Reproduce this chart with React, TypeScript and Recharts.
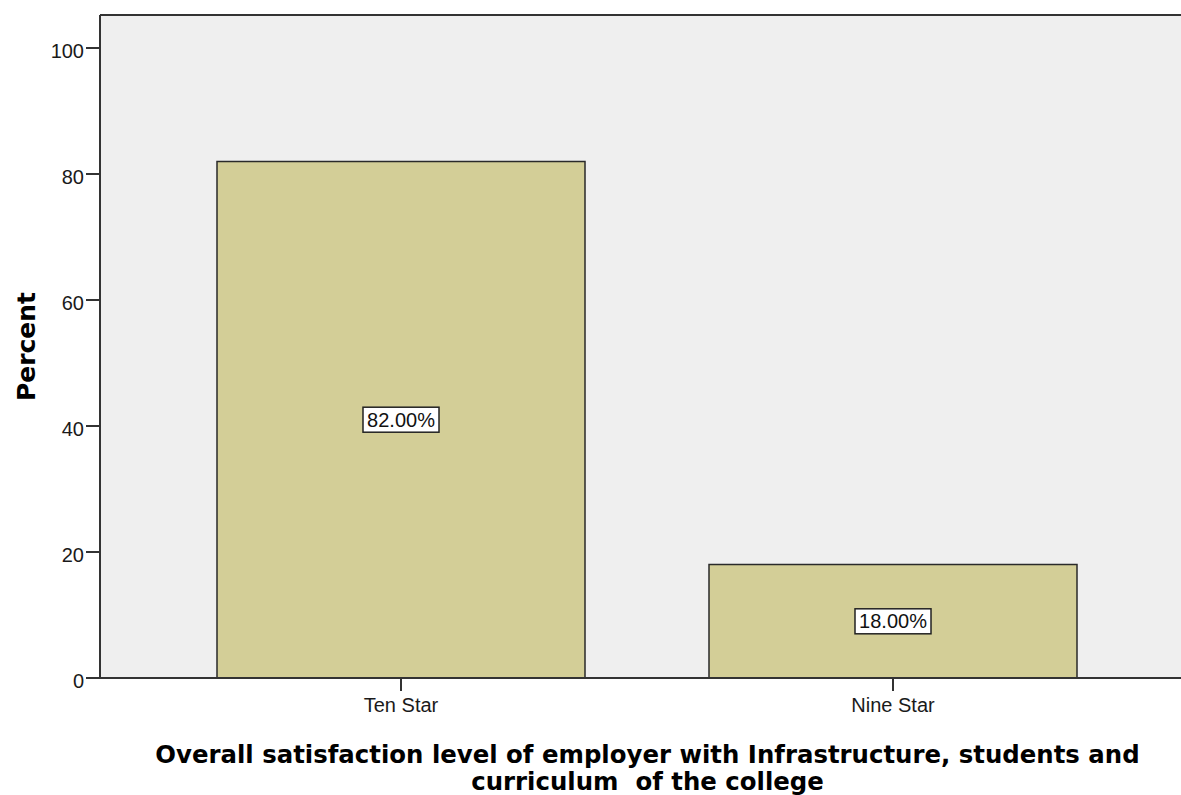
import React from 'react';
import { BarChart, Bar, XAxis, YAxis, CartesianGrid, ReferenceLine, LabelList } from 'recharts';

const categories = ['Ten Star', 'Nine Star'];
const percentValues = [82.0, 18.0];
const yTicks = [0, 20, 40, 60, 80, 100];
const yMax = 105.24;
const xTitleLine1 = 'Overall satisfaction level of employer with Infrastructure, students and';
const xTitleLine2 = 'curriculum  of the college';
const yTitle = 'Percent';

const data = categories.map((name, i) => ({ name, value: percentValues[i] }));

const AXIS = '#333333';
const BAR_FILL = '#D3CE97';
const BG = '#EFEFEF';

const ValueLabel = (props: any) => {
  const { x, y, width, height, value } = props;
  const cx = Number(x) + Number(width) / 2;
  const cy = Number(y) + Number(height) / 2;
  const w = 76;
  const h = 25;
  return (
    <g>
      <rect x={cx - w / 2} y={cy - h / 2} width={w} height={h} fill="#FFFFFF" stroke="#222222" strokeWidth={1.5} />
      <text x={cx} y={cy + 7} textAnchor="middle" fontFamily="'Liberation Sans', Arial, sans-serif" fontSize={20} fill="#111111">
        {Number(value).toFixed(2) + '%'}
      </text>
    </g>
  );
};

const XTitle = (props: any) => {
  const vb = props.viewBox || { x: 100, y: 678, width: 1081, height: 117 };
  const cx = vb.x + vb.width / 2 + 7;
  return (
    <text
      x={cx}
      y={vb.y + 85}
      textAnchor="middle"
      fontFamily="'DejaVu Sans', Verdana, sans-serif"
      fontWeight="bold"
      fontSize={24.4}
      fill="#000000"
      style={{ whiteSpace: 'pre' }}
    >
      <tspan x={cx} dy={0}>{xTitleLine1}</tspan>
      <tspan x={cx} dy={27}>{xTitleLine2}</tspan>
    </text>
  );
};

const YTitle = (props: any) => {
  const vb = props.viewBox || { x: 0, y: 15, width: 100, height: 663 };
  const bx = vb.x + 35;
  const cy = vb.y + vb.height / 2;
  return (
    <text
      x={bx}
      y={cy}
      textAnchor="middle"
      transform={`rotate(-90, ${bx}, ${cy})`}
      fontFamily="'DejaVu Sans', Verdana, sans-serif"
      fontWeight="bold"
      fontSize={25}
      fill="#000000"
    >
      {yTitle}
    </text>
  );
};

export default function App() {
  return (
    <div style={{ position: 'absolute', left: 0, top: 0, width: 1181, height: 795, background: '#FFFFFF' }}>
      <BarChart width={1181} height={795} data={data} margin={{ top: 15, right: 0, bottom: 0, left: 0 }}>
        <CartesianGrid fill={BG} stroke="none" horizontal={false} vertical={false} />
        <XAxis
          dataKey="name"
          type="category"
          padding={{ left: 55, right: 42 }}
          height={117}
          tickSize={13}
          tickMargin={7}
          axisLine={{ stroke: AXIS, strokeWidth: 2 }}
          tickLine={{ stroke: AXIS, strokeWidth: 2 }}
          tick={{ fill: '#1a1a1a', fontSize: 20, fontFamily: "'Liberation Sans', Arial, sans-serif" }}
          label={{ content: (p: any) => <XTitle {...p} /> }}
        />
        <YAxis
          type="number"
          domain={[0, yMax]}
          ticks={yTicks}
          width={100}
          tickSize={14}
          tickMargin={2}
          axisLine={{ stroke: AXIS, strokeWidth: 2 }}
          tickLine={{ stroke: AXIS, strokeWidth: 2 }}
          tick={{ fill: '#1a1a1a', fontSize: 20, fontFamily: "'Liberation Sans', Arial, sans-serif", dy: 3 }}
          label={{ content: (p: any) => <YTitle {...p} /> }}
        />
        <ReferenceLine y={yMax} stroke={AXIS} strokeWidth={2} ifOverflow="extendDomain" />
        <Bar dataKey="value" fill={BAR_FILL} stroke="#2a2a2a" strokeWidth={1.5} barSize={368} isAnimationActive={false}>
          <LabelList dataKey="value" content={(p: any) => <ValueLabel {...p} />} />
        </Bar>
      </BarChart>
    </div>
  );
}
